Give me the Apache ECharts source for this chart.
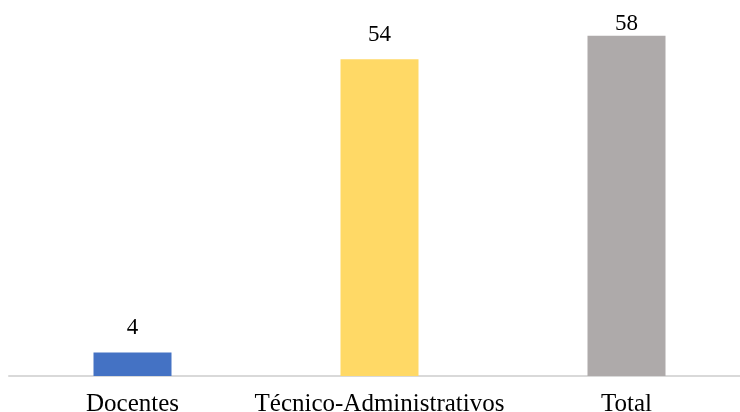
<!DOCTYPE html>
<html><head><meta charset="utf-8">
<script src="https://cdn.jsdelivr.net/npm/echarts@6/dist/echarts.min.js"></script>
<style>html,body{margin:0;padding:0;background:#fff}#c{width:740px;height:412px}</style>
</head><body><div id="c"></div>
<script>
const categories = ['Docentes', 'Técnico-Administrativos', 'Total'];
const values = [4, 54, 58];
const barColors = ['#4472C4', '#FFD966', '#AEAAAA'];
const labelGaps = [13, 13, 0];

const chart = echarts.init(document.getElementById('c'), null, {renderer: 'canvas'});
chart.setOption({
  animation: false,
  grid: {left: 9, right: -10, top: 24, bottom: 36, containLabel: false, outerBoundsMode: 'none'},
  xAxis: {
    type: 'category', data: categories,
    axisLine: {show: true, lineStyle: {color: '#D9D9D9', width: 2}},
    axisTick: {show: false},
    axisLabel: {interval: 0, fontFamily: 'Liberation Serif', fontSize: 25, color: '#000', margin: 16}
  },
  yAxis: {type: 'value', min: 0, max: 60, show: false, splitLine: {show: false}},
  series: [{
    type: 'bar', barWidth: 78,
    data: values.map((v, i) => ({value: v, itemStyle: {color: barColors[i]}, label: {distance: labelGaps[i]}})),
    label: {show: true, position: 'top', distance: 13, fontFamily: 'Liberation Serif', fontSize: 23, color: '#000'}
  }]
});
</script></body></html>
